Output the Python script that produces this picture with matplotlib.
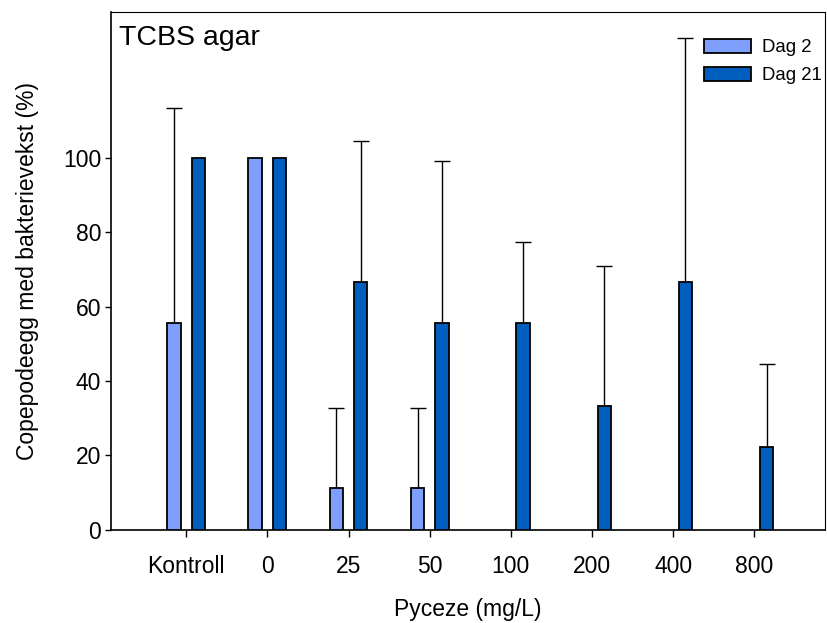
import numpy as np
import matplotlib
matplotlib.use("Agg")
import matplotlib.pyplot as plt

plt.rcParams["font.family"] = ["Liberation Sans", "DejaVu Sans"]

# Data
categories = ["Kontroll", "0", "25", "50", "100", "200", "400", "800"]
dag2 = [55.6, 100, 11.1, 11.1, 0, 0, 0, 0]
dag2_err = [57.8, 0, 21.7, 21.7, 0, 0, 0, 0]
dag21 = [100, 100, 66.7, 55.6, 55.6, 33.3, 66.7, 22.2]
dag21_err = [0, 0, 37.9, 43.5, 21.7, 37.7, 65.5, 22.3]

x = np.arange(len(categories))
offset = 0.15
width = 0.165

fig = plt.figure(figsize=(8.27, 6.23), dpi=100)
ax = fig.add_axes([0.134, 0.15, 0.864, 0.831])

series = [
    ("Dag 2", x - offset, dag2, dag2_err, "#7f9fff"),
    ("Dag 21", x + offset, dag21, dag21_err, "#005ebe"),
]

for label, xs, vals, errs, color in series:
    bars = ax.bar(xs, vals, width, color=color, edgecolor="black",
                  linewidth=1.3, label=label, zorder=3)
    # no visible mark for empty bars
    for b, v in zip(bars, vals):
        if v == 0:
            b.set_visible(False)

    # upward-only error bars, skip zeros
    vals = np.array(vals)
    errs = np.array(errs)
    m = errs > 0
    _, caps, _ = ax.errorbar(xs[m], vals[m], yerr=[np.zeros(m.sum()), errs[m]],
                             fmt="none", ecolor="black", elinewidth=1.0,
                             capsize=5.8, capthick=1.0, zorder=2)
    caps[0].set_visible(False)

ax.set_xlim(-0.928, 7.874)
ax.set_ylim(0, 139.3)
ax.set_yticks([0, 20, 40, 60, 80, 100])
ax.set_xticks(x)
ax.set_xticklabels(categories)

ax.tick_params(axis="x", direction="out", length=5, width=1, labelsize=16.5, pad=13)
ax.tick_params(axis="y", direction="out", length=4, width=1, labelsize=16.5, pad=3)

for s in ["left", "bottom"]:
    ax.spines[s].set_linewidth(1.2)
for s in ["top", "right"]:
    ax.spines[s].set_linewidth(0.8)

ax.set_xlabel("Pyceze (mg/L)", fontsize=16.5, labelpad=15)
ax.set_ylabel("Copepodeegg med bakterievekst (%)", fontsize=16.5, labelpad=17)

ax.text(0.012, 0.975, "TCBS agar", transform=ax.transAxes, fontsize=20.5,
        ha="left", va="top")

ax.legend(loc="upper right", bbox_to_anchor=(1.0, 0.955), frameon=False,
          fontsize=13.4, handlelength=2.5, handleheight=0.8,
          handletextpad=0.6, labelspacing=0.55, borderpad=0, borderaxespad=0.2)

plt.savefig("out.png", dpi=100)
